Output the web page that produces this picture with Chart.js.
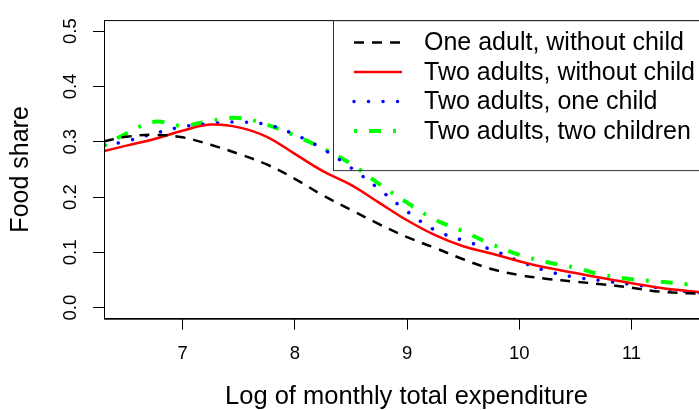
<!DOCTYPE html>
<html>
<head>
<meta charset="utf-8">
<script src="https://cdn.jsdelivr.net/npm/chart.js@4.4.1/dist/chart.umd.min.js"></script>
<style>
  html, body { margin: 0; padding: 0; background: #fff; overflow: hidden; }
  #wrap { width: 699px; height: 410px; overflow: hidden; }
</style>
</head>
<body>
<div id="wrap"><canvas id="grafico" width="760" height="410"></canvas></div>
<script>
// Dados
const xs = [6.3, 6.5, 6.75, 7, 7.25, 7.5, 7.75, 8, 8.25, 8.5, 8.75, 9, 9.25, 9.5, 9.75, 10, 10.25, 10.5, 10.75, 11, 11.25, 11.5, 11.75];
const umAdulto = [0.301, 0.309, 0.3125, 0.308, 0.2945, 0.278, 0.259, 0.233, 0.203, 0.177, 0.151, 0.1275, 0.108, 0.0875, 0.070, 0.059, 0.052, 0.047, 0.042, 0.036, 0.029, 0.026, 0.024];
const doisAdultos = [0.283, 0.293, 0.305, 0.320, 0.331, 0.326, 0.309, 0.278, 0.247, 0.222, 0.190, 0.158, 0.131, 0.111, 0.098, 0.084, 0.072, 0.0625, 0.053, 0.044, 0.036, 0.030, 0.025];
const umaCrianca = [0.293, 0.301, 0.315, 0.327, 0.333, 0.3356, 0.331, 0.313, 0.287, 0.253, 0.2145, 0.174, 0.140, 0.1215, 0.105, 0.084, 0.066, 0.055, 0.0485, 0.042, 0.0353, 0.029, 0.025];
const duasCriancas = [0.293, 0.315, 0.336, 0.329, 0.338, 0.343, 0.331, 0.311, 0.288, 0.260, 0.224, 0.190, 0.159, 0.138, 0.115, 0.0955, 0.082, 0.072, 0.059, 0.0515, 0.047, 0.042, 0.035];
const legendas = ['One adult, without child', 'Two adults, without child', 'Two adults, one child', 'Two adults, two children'];
const xTicks = [7, 8, 9, 10, 11];
const yTicks = [0, 0.1, 0.2, 0.3, 0.4, 0.5];

const fonte = 'Liberation Sans, Arial, Helvetica, sans-serif';

function pontos(ys) {
    return xs.map((x, i) => ({ x: x, y: ys[i] }));
}

// Moldura do gráfico e legenda (estilo R)
const moldura = {
    id: 'moldura',
    afterDatasetsDraw(chart) {
        const ctx = chart.ctx;
        const a = chart.chartArea;
        ctx.save();
        ctx.strokeStyle = '#000';
        ctx.lineWidth = 1;
        ctx.setLineDash([]);
        ctx.strokeRect(a.left + 0.5, a.top + 0.5, a.right - a.left, a.bottom - a.top);

        // caixa da legenda
        ctx.strokeStyle = '#333';
        ctx.strokeRect(333.5, a.top + 0.5, 380, 150);

        chart.data.datasets.forEach((ds, i) => {
            const y = 42.5 + i * 29.5;
            ctx.beginPath();
            ctx.strokeStyle = ds.borderColor;
            ctx.lineWidth = ds.borderWidth;
            ctx.lineCap = ds.borderCapStyle || 'butt';
            ctx.setLineDash(ds.borderDash || []);
            ctx.moveTo(354, y);
            ctx.lineTo(402, y);
            ctx.stroke();

            ctx.setLineDash([]);
            ctx.fillStyle = '#000';
            ctx.font = '25px ' + fonte;
            ctx.textBaseline = 'middle';
            ctx.textAlign = 'left';
            ctx.fillText(ds.label, 424, y + 1);
        });
        ctx.restore();
    }
};

const ctx = document.getElementById('grafico').getContext('2d');
new Chart(ctx, {
    type: 'line',
    data: {
        datasets: [{
            label: legendas[0],
            data: pontos(umAdulto),
            borderColor: '#000000',
            borderWidth: 2.5,
            borderDash: [10, 8]
        }, {
            label: legendas[1],
            data: pontos(doisAdultos),
            borderColor: '#FF0000',
            borderWidth: 2.5
        }, {
            label: legendas[2],
            data: pontos(umaCrianca),
            borderColor: '#0000FF',
            borderWidth: 3.5,
            borderDash: [0.01, 14.5],
            borderCapStyle: 'round'
        }, {
            label: legendas[3],
            data: pontos(duasCriancas),
            borderColor: '#00FF00',
            borderWidth: 4,
            borderDash: [3, 12, 12, 12]
        }]
    },
    options: {
        responsive: false,
        animation: false,
        devicePixelRatio: 1,
        layout: { padding: { top: 12, right: 51, left: 0, bottom: 0 } },
        elements: {
            line: { tension: 0.4, fill: false },
            point: { radius: 0 }
        },
        plugins: {
            legend: { display: false },
            tooltip: { enabled: false }
        },
        scales: {
            x: {
                type: 'linear',
                min: 6.3,
                max: 11.69,
                afterBuildTicks: scale => { scale.ticks = xTicks.map(v => ({ value: v })); },
                afterFit: scale => { scale.height = 91.3; },
                grid: { display: true, drawOnChartArea: false, drawTicks: true, tickLength: 11, tickColor: '#000' },
                border: { display: true, color: '#000', width: 1 },
                ticks: {
                    color: '#000',
                    padding: 13,
                    maxRotation: 0,
                    font: { family: fonte, size: 18.5 },
                    callback: v => String(v)
                },
                title: {
                    display: true,
                    text: 'Log of monthly total expenditure',
                    color: '#000',
                    font: { family: fonte, size: 25.5, lineHeight: 1 },
                    padding: 0
                }
            },
            y: {
                min: -0.02,
                max: 0.52,
                afterBuildTicks: scale => { scale.ticks = yTicks.map(v => ({ value: v })); },
                afterFit: scale => { scale.width = 104; },
                grid: { display: true, drawOnChartArea: false, drawTicks: true, tickLength: 11, tickColor: '#000' },
                border: { display: true, color: '#000', width: 1 },
                ticks: {
                    color: '#000',
                    padding: 9,
                    minRotation: 90,
                    maxRotation: 90,
                    crossAlign: 'center',
                    font: { family: fonte, size: 18.5 },
                    callback: v => v.toFixed(1)
                },
                title: {
                    display: true,
                    text: 'Food share',
                    color: '#000',
                    font: { family: fonte, size: 25, lineHeight: 1 },
                    padding: { top: 9, bottom: 0 }
                }
            }
        }
    },
    plugins: [moldura]
});
</script>
</body>
</html>
